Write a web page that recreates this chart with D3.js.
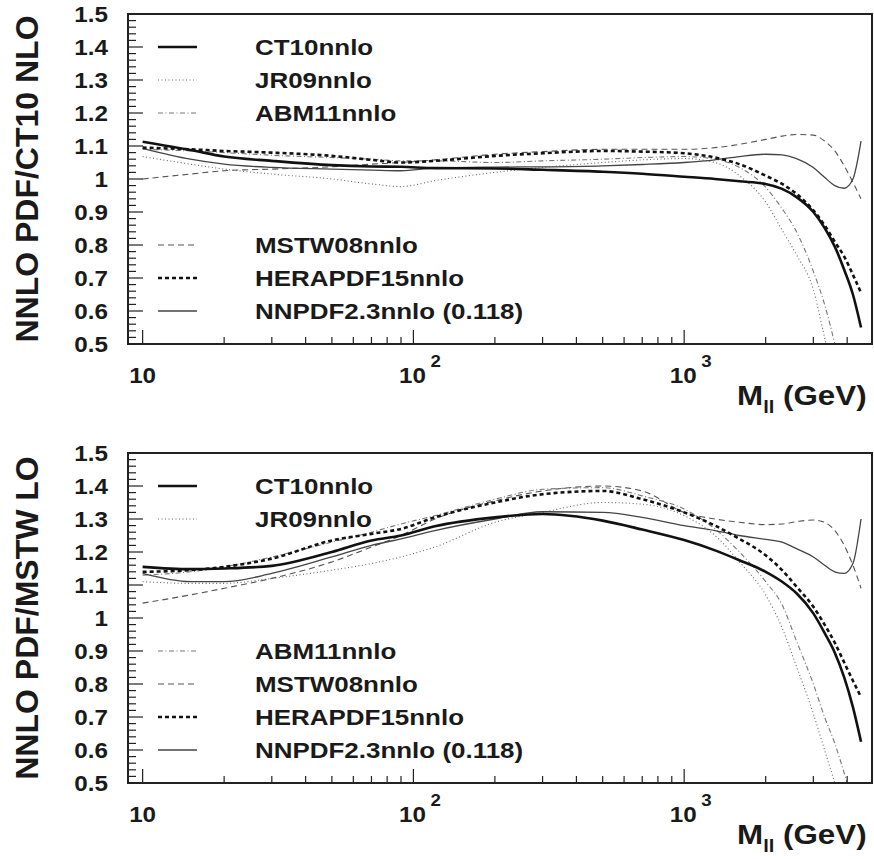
<!DOCTYPE html>
<html lang="en">
<head>
<meta charset="UTF-8">
<title>NNLO PDF ratios vs M_ll</title>
<style>
  body { margin: 0; background: #fff; }
  svg text { font-family: "Liberation Sans", Arial, sans-serif; font-weight: bold; fill: #1a1a1a; }
</style>
</head>
<body>
<svg id="chart" width="874" height="859"></svg>
<script src="https://d3js.org/d3.v7.min.js"></script>
<script>
// invariant mass grid (GeV)
const mass = [10, 15, 20, 30, 50, 70, 90, 120, 200, 300, 500, 700, 1000, 1300, 1600, 2000, 2300, 2600, 3000, 3300, 3600, 3900, 4200, 4500];

const pdfNames = ["CT10nnlo", "JR09nnlo", "ABM11nnlo", "MSTW08nnlo", "HERAPDF15nnlo", "NNPDF2.3nnlo (0.118)"];

// upper panel: NNLO PDF / CT10 NLO
const topCT10  = [1.113, 1.088, 1.068, 1.055, 1.042, 1.038, 1.037, 1.033, 1.032, 1.028, 1.022, 1.016, 1.007, 1.0, 0.993, 0.985, 0.97, 0.945, 0.9, 0.852, 0.795, 0.725, 0.65, 0.55];
const topJR09  = [1.068, 1.045, 1.03, 1.015, 1.0, 0.985, 0.977, 0.995, 1.02, 1.035, 1.05, 1.058, 1.062, 1.05, 1.01, 0.93, 0.845, 0.77, 0.665, 0.52, 0.39, null, null, null];
const topABM11 = [1.09, 1.085, 1.08, 1.072, 1.065, 1.06, 1.055, 1.055, 1.05, 1.055, 1.06, 1.065, 1.068, 1.06, 1.035, 0.975, 0.91, 0.84, 0.72, 0.62, 0.5, 0.37, null, null];
const topMSTW  = [1.0, 1.015, 1.025, 1.03, 1.037, 1.045, 1.05, 1.058, 1.075, 1.083, 1.09, 1.09, 1.09, 1.095, 1.105, 1.12, 1.13, 1.135, 1.133, 1.115, 1.085, 1.04, 0.99, 0.94];
const topHERA  = [1.095, 1.09, 1.085, 1.08, 1.07, 1.058, 1.05, 1.055, 1.07, 1.078, 1.085, 1.083, 1.078, 1.065, 1.045, 1.01, 0.985, 0.955, 0.905, 0.86, 0.81, 0.765, 0.71, 0.655];
const topNNPDF = [1.093, 1.06, 1.045, 1.035, 1.03, 1.027, 1.025, 1.033, 1.036, 1.037, 1.04, 1.044, 1.05, 1.058, 1.068, 1.075, 1.073, 1.062, 1.035, 1.005, 0.98, 0.972, 1.0, 1.115];

// lower panel: NNLO PDF / MSTW LO
const botCT10  = [1.155, 1.148, 1.15, 1.158, 1.2, 1.235, 1.25, 1.278, 1.305, 1.315, 1.295, 1.268, 1.236, 1.205, 1.175, 1.14, 1.11, 1.075, 1.014, 0.955, 0.895, 0.82, 0.73, 0.625];
const botJR09  = [1.11, 1.105, 1.105, 1.12, 1.145, 1.165, 1.185, 1.215, 1.29, 1.32, 1.35, 1.345, 1.31, 1.25, 1.17, 1.07, 0.97, 0.853, 0.71, 0.6, 0.5, 0.4, null, null];
const botABM11 = [1.13, 1.14, 1.155, 1.185, 1.23, 1.26, 1.285, 1.31, 1.36, 1.39, 1.395, 1.37, 1.33, 1.27, 1.2, 1.11, 1.04, 0.93, 0.8, 0.7, 0.62, 0.53, 0.44, null];
const botMSTW  = [1.045, 1.07, 1.09, 1.12, 1.17, 1.215, 1.25, 1.3, 1.355, 1.385, 1.4, 1.385, 1.32, 1.3, 1.29, 1.283, 1.285, 1.292, 1.297, 1.29, 1.265, 1.22, 1.16, 1.09];
const botHERA  = [1.14, 1.145, 1.155, 1.18, 1.235, 1.255, 1.27, 1.305, 1.35, 1.375, 1.385, 1.36, 1.32, 1.28, 1.24, 1.19, 1.145, 1.095, 1.034, 0.98, 0.925, 0.865, 0.81, 0.76];
const botNNPDF = [1.135, 1.11, 1.11, 1.135, 1.185, 1.22, 1.24, 1.265, 1.3, 1.322, 1.32, 1.305, 1.28, 1.265, 1.25, 1.238, 1.23, 1.21, 1.185, 1.16, 1.14, 1.135, 1.165, 1.3];

const yTicks = [0.5, 0.6, 0.7, 0.8, 0.9, 1.0, 1.1, 1.2, 1.3, 1.4, 1.5];

const styles = {
  "CT10nnlo":             { stroke: "#111", width: 2.6, dash: null },
  "JR09nnlo":             { stroke: "#666", width: 1.1, dash: "1,2.5" },
  "ABM11nnlo":            { stroke: "#777", width: 1.1, dash: "5,2.5,1,2.5" },
  "MSTW08nnlo":           { stroke: "#555", width: 1.1, dash: "6,4" },
  "HERAPDF15nnlo":        { stroke: "#111", width: 2.6, dash: "4,3" },
  "NNPDF2.3nnlo (0.118)": { stroke: "#444", width: 1.3, dash: null }
};

const svg = d3.select("#chart");
const left = 128, right = 872;

function scaledText(g, x, y, sx, str, size, anchor) {
  return g.append("text")
    .attr("transform", `translate(${x},${y}) scale(${sx},1)`)
    .attr("font-size", size)
    .attr("text-anchor", anchor || "start")
    .text(str);
}

function drawPanel(top, bottom, series, yTitle, legendSlots, id) {
  const x = d3.scaleLog().domain([8.83, 4940]).range([left, right]);
  const y = d3.scaleLinear().domain([0.5, 1.5]).range([bottom, top]);
  const g = svg.append("g");

  g.append("clipPath").attr("id", id)
    .append("rect").attr("x", left).attr("y", top).attr("width", right - left).attr("height", bottom - top);

  // curves
  const line = d3.line()
    .defined(d => d[1] != null)
    .x(d => x(d[0])).y(d => y(d[1]))
    .curve(d3.curveMonotoneX);
  const order = [3, 1, 2, 5, 4, 0];
  const curves = g.append("g").attr("clip-path", `url(#${id})`);
  order.forEach(i => {
    const st = styles[pdfNames[i]];
    curves.append("path")
      .datum(mass.map((m, k) => [m, series[i][k]]))
      .attr("fill", "none")
      .attr("stroke", st.stroke)
      .attr("stroke-width", st.width)
      .attr("stroke-dasharray", st.dash)
      .attr("d", line);
  });

  // frame
  g.append("rect").attr("x", left).attr("y", top).attr("width", right - left).attr("height", bottom - top)
    .attr("fill", "none").attr("stroke", "#222").attr("stroke-width", 2);

  // y ticks (inside, on left)
  d3.range(0, 51).map(k => 0.5 + k * 0.02).forEach((v, k) => {
    const major = k % 5 === 0;
    g.append("line").attr("x1", left).attr("x2", left + (major ? 15 : 8))
      .attr("y1", y(v)).attr("y2", y(v)).attr("stroke", "#222").attr("stroke-width", 1.2);
  });
  yTicks.forEach(v => {
    scaledText(g, 108, y(v) + 8, 1.1, v === 1 ? "1" : d3.format(".1f")(v), 22, "end");
  });

  // x ticks (inside, on bottom)
  x.ticks().filter(m => m >= 10 && m <= 4940).forEach(m => {
    const major = Math.abs(Math.log10(m) - Math.round(Math.log10(m))) < 1e-9;
    g.append("line").attr("x1", x(m)).attr("x2", x(m))
      .attr("y1", bottom).attr("y2", bottom - (major ? 14 : 7))
      .attr("stroke", "#222").attr("stroke-width", 1.2);
  });
  scaledText(g, x(10), bottom + 39, 1.1, "10", 22, "middle");
  [[100, "2"], [1000, "3"]].forEach(([m, e]) => {
    scaledText(g, x(m) - 1, bottom + 39, 1.1, "10", 22, "middle");
    scaledText(g, x(m) + 17, bottom + 23, 1.1, e, 17, "start");
  });

  // x title
  const xt = g.append("text")
    .attr("transform", `translate(737,${bottom + 61}) scale(1.12,1)`)
    .attr("font-size", 28);
  xt.append("tspan").text("M");
  xt.append("tspan").attr("font-size", 18).attr("dy", 8).text("ll");
  xt.append("tspan").attr("dy", -8).text(" (GeV)");

  // y title
  g.append("text")
    .attr("transform", `translate(38,${(top + bottom) / 2}) rotate(-90)`)
    .attr("font-size", 32).attr("text-anchor", "middle")
    .text(yTitle);

  // legend
  legendSlots.forEach((v, i) => {
    const st = styles[pdfNames[i]];
    g.append("line").attr("x1", 158).attr("x2", 197).attr("y1", y(v)).attr("y2", y(v))
      .attr("stroke", st.stroke).attr("stroke-width", st.width).attr("stroke-dasharray", st.dash);
    scaledText(g, 255, y(v) + 8, 1.18, pdfNames[i], 22, "start");
  });
}

drawPanel(14, 344, [topCT10, topJR09, topABM11, topMSTW, topHERA, topNNPDF],
  "NNLO PDF/CT10 NLO", [1.4, 1.3, 1.2, 0.8, 0.7, 0.6], "clipTop");
drawPanel(453, 783, [botCT10, botJR09, botABM11, botMSTW, botHERA, botNNPDF],
  "NNLO PDF/MSTW LO", [1.4, 1.3, 0.9, 0.8, 0.7, 0.6], "clipBot");
</script>
</body>
</html>
